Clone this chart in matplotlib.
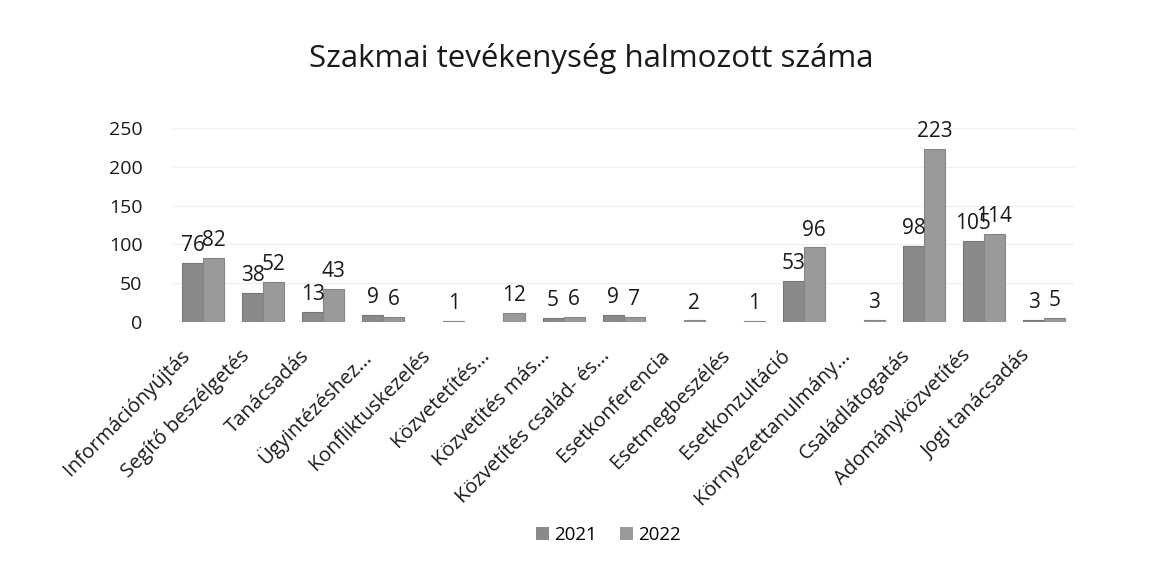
import numpy as np
import matplotlib
matplotlib.use('Agg')
import matplotlib.pyplot as plt
from matplotlib.patches import Patch

# --- Data ---
categories = ['Információnyújtás', 'Segítő beszélgetés', 'Tanácsadás', 'Ügyintézéshez...',
              'Konfliktuskezelés', 'Közvetetítés...', 'Közvetítés más...',
              'Közvetítés család- és...', 'Esetkonferencia', 'Esetmegbeszélés',
              'Esetkonzultáció', 'Környezettanulmány...', 'Családlátogatás',
              'Adományközvetítés', 'Jogi tanácsadás']
y2021 = [76, 38, 13, 9, np.nan, np.nan, 5, 9, np.nan, np.nan, 53, np.nan, 98, 105, 3]
y2022 = [82, 52, 43, 6, 1, 12, 6, 7, 2, 1, 96, 3, 223, 114, 5]
series_names = ['2021', '2022']
yticks = [0, 50, 100, 150, 200, 250]

plt.rcParams['font.family'] = ['Open Sans', 'DejaVu Sans']

fig = plt.figure(figsize=(11.7, 5.71), dpi=100)
ax = fig.add_axes([0.148, 0.436, 0.77, 0.34])

c21 = '#8a8a8a'
c22 = '#9a9a9a'
x = np.arange(len(categories))
w = 0.35

b1 = ax.bar(x - w / 2, y2021, width=w, color=c21, edgecolor='#777777', linewidth=0.8)
b2 = ax.bar(x + w / 2, y2022, width=w, color=c22, edgecolor='#858585', linewidth=0.8)

ax.bar_label(b1, labels=['' if np.isnan(v) else f'{v:.0f}' for v in y2021],
             padding=5, fontsize=15, color='#1a1a1a', clip_on=False)
ax.bar_label(b2, labels=[f'{v:.0f}' for v in y2022],
             padding=5, fontsize=15, color='#1a1a1a', clip_on=False)

ax.set_ylim(0, 250)
ax.set_yticks(yticks)
ax.set_xlim(-0.5, len(categories) - 0.5)
ax.set_xticks(x)
ax.set_xticklabels([])
# category labels, rotated, end slightly left/below the category centre
for xi, cat in zip(x, categories):
    ax.annotate(cat, xy=(xi, 0), xycoords=('data', 'axes fraction'),
                xytext=(-17, -17), textcoords='offset points',
                rotation=45, ha='right', va='top', rotation_mode='anchor',
                fontsize=14.5, color='#1a1a1a', annotation_clip=False)
ax.tick_params(axis='y', labelsize=14, colors='#1a1a1a', length=0, pad=22)
ax.tick_params(axis='x', length=0)

for s in ax.spines.values():
    s.set_visible(False)
ax.grid(axis='y', color='#f0f0f0', linewidth=1)
ax.set_axisbelow(True)

fig.text(0.505, 0.898, 'Szakmai tevékenység halmozott száma', ha='center', va='center',
         fontsize=22.5, color='#1a1a1a')

handles = [Patch(facecolor=c21, label=series_names[0]),
           Patch(facecolor=c22, label=series_names[1])]
fig.legend(handles=handles, loc='center', bbox_to_anchor=(0.52, 0.063), ncol=2,
           frameon=False, fontsize=13.5, handlelength=0.7, handleheight=0.7,
           handletextpad=0.3, columnspacing=1.2)

fig.savefig('out.png', dpi=100, facecolor='white')
